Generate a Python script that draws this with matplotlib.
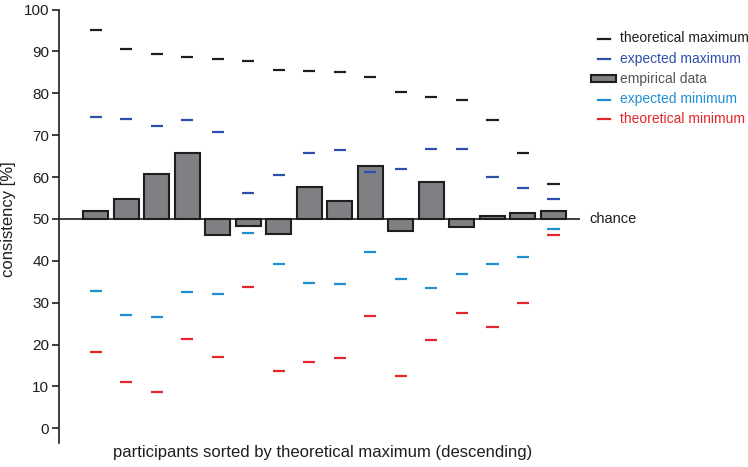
import numpy as np
import matplotlib
matplotlib.use("Agg")
import matplotlib.pyplot as plt
from matplotlib.lines import Line2D
from matplotlib.patches import Rectangle

plt.rcParams['font.family'] = ['Liberation Sans', 'DejaVu Sans']

# valores (16 participantes)
theo_max = [95.1, 90.6, 89.4, 88.6, 88.2, 87.7, 85.6, 85.2, 85.1, 83.8, 80.3, 79.1, 78.5, 73.6, 65.8, 58.3]
exp_max = [74.3, 73.9, 72.3, 73.6, 70.7, 56.1, 60.5, 65.8, 66.4, 61.1, 61.9, 66.7, 66.8, 59.9, 57.3, 54.8]
empirical = [51.9, 54.8, 60.8, 65.7, 46.2, 48.2, 46.3, 57.7, 54.2, 62.7, 47.0, 58.7, 48.0, 50.8, 51.5, 51.8]
exp_min = [32.9, 27.1, 26.6, 32.6, 32.1, 46.6, 39.3, 34.7, 34.4, 42.0, 35.6, 33.5, 36.9, 39.2, 40.8, 47.6]
theo_min = [18.3, 11.1, 8.7, 21.3, 17.1, 33.8, 13.7, 15.9, 16.7, 26.8, 12.6, 21.2, 27.6, 24.2, 29.9, 46.2]
chance = 50

labels = ["theoretical maximum", "expected maximum", "empirical data",
          "expected minimum", "theoretical minimum"]

c_black = "#1e1e1e"
c_dblue = "#2d4fae"
c_lblue = "#1f8fd2"
c_red = "#e3262c"
c_bar = "#7f8083"
c_gray_txt = "#555555"

W, H = 748, 467
fig = plt.figure(figsize=(W / 100, H / 100), dpi=100)
ax = fig.add_axes([59/W, 24/H, (580-59)/W, (443-9.5)/H])

x = np.arange(len(empirical))
emp = np.array(empirical)

ax.bar(x, emp - chance, bottom=chance, width=0.82, color=c_bar,
       edgecolor=c_black, linewidth=1.5, zorder=2)
ax.axhline(chance, color=c_black, linewidth=1.2, zorder=3)

hw = 0.2
for vals, col in [(theo_max, c_black), (exp_max, c_dblue), (exp_min, c_lblue), (theo_min, c_red)]:
    ax.hlines(vals, x - hw, x + hw, colors=col, linewidth=1.6, zorder=3)

ax.set_xlim(-1.2, 15.87)
ax.set_ylim(-3.5, 100)
ax.set_yticks(np.arange(0, 101, 10))
ax.set_xticks([])
for s in ["top", "right", "bottom"]:
    ax.spines[s].set_visible(False)
ax.spines["left"].set_linewidth(1.2)
ax.spines["left"].set_color(c_black)
ax.tick_params(axis="y", direction="out", length=5, width=1.2, pad=2,
               labelsize=11, colors=c_black)

fig.text(9/W, 1 - 219/H, "consistency [%]", rotation=90, fontsize=12,
         ha="center", va="center", color=c_black)

ax.text(15.87 + 0.3, chance, "chance", fontsize=10.5, va="center", ha="left",
        color=c_black, clip_on=False)

fig.text(323/W, 1 - 453/H, "participants sorted by theoretical maximum (descending)",
         fontsize=12, ha="center", va="center", color=c_black)

# leyenda dibujada a mano
row_y = [38.5, 58.5, 79, 99.5, 119.5]
txt_cols = [c_black, c_dblue, c_gray_txt, c_lblue, c_red]
line_cols = [c_black, c_dblue, None, c_lblue, c_red]
for yy, lab, tc, lc in zip(row_y, labels, txt_cols, line_cols):
    yf = 1 - yy / H
    if lc is None:
        fig.add_artist(Rectangle((591/W, yf - 3.5/H), 25/W, 7/H, facecolor=c_bar,
                                 edgecolor=c_black, linewidth=1.5, transform=fig.transFigure))
    else:
        fig.add_artist(Line2D([598/W, 610/W], [yf, yf], color=lc, linewidth=1.6,
                              transform=fig.transFigure))
    fig.text(620/W, yf, lab, fontsize=10, color=tc, ha="left", va="center")

fig.savefig("out.png", dpi=100)
